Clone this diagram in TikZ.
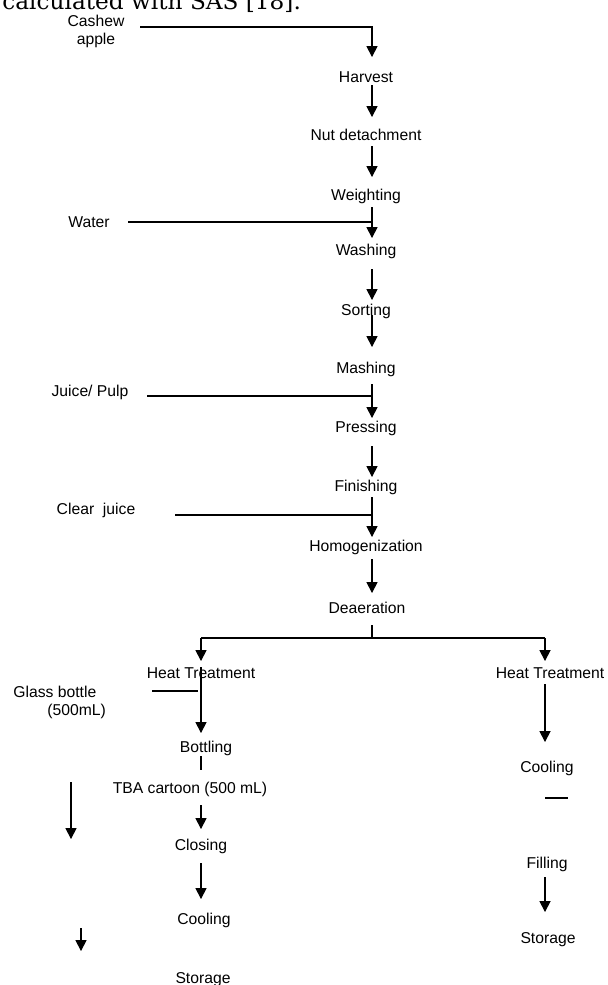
\documentclass[tikz,border=0pt]{standalone}
\usepackage{fontspec}
\setmainfont{Liberation Sans}
\newfontfamily\serifx{DejaVu Serif}
\usetikzlibrary{arrows.meta}
\tikzset{
  lbl/.style={inner sep=0pt, anchor=base, font=\fontsize{7.85}{9}\selectfont},
  conn/.style={line width=0.55pt, draw=black},
  arr/.style={conn, -{Triangle[length=5.5pt,width=5.6pt]}},
}
\begin{document}
\begin{tikzpicture}[x=0.5pt,y=-0.5pt]
\useasboundingbox (0,0) rectangle (607,985);
% clipped caption line at the top
\node[inner sep=0pt, anchor=base west, font=\serifx\fontsize{11.6}{14}\selectfont] (cap) at (2,10) {calculated with SAS [18].};
% labels
\node[lbl, align=center] (cashew) at (96,44.5) {Cashew\\apple};
\node[lbl] (harvest) at (366,82.5) {Harvest};
\node[lbl] (nut) at (366,140.5) {Nut detachment};
\node[lbl] (weight) at (366,200.5) {Weighting};
\node[lbl] (water) at (89,227.5) {Water};
\node[lbl] (wash) at (366,255.5) {Washing};
\node[lbl] (sort) at (366,315.5) {Sorting};
\node[lbl] (mash) at (366,373.5) {Mashing};
\node[lbl] (juice) at (90,396.5) {Juice/ Pulp};
\node[lbl] (press) at (366,432.5) {Pressing};
\node[lbl] (finish) at (366,491.5) {Finishing};
\node[lbl] (clear) at (96,514.5) {Clear\ \ juice};
\node[lbl] (homog) at (366,551.5) {Homogenization};
\node[lbl] (deaer) at (367,613.5) {Deaeration};
\node[lbl] (heatL) at (201,678.5) {Heat Treatment};
\node[lbl] (heatR) at (550,678.5) {Heat Treatment};
\node[lbl, anchor=base west, align=left] (glass) at (13,715.5) {Glass bottle\\\hspace*{17pt}(500mL)};
\node[lbl] (bottl) at (206,752.5) {Bottling};
\node[lbl] (tba) at (190,793.5) {TBA cartoon (500 mL)};
\node[lbl] (closing) at (201,850.5) {Closing};
\node[lbl] (coolL) at (204,924.5) {Cooling};
\node[lbl] (storL) at (203,983.5) {Storage};
\node[lbl] (coolR) at (547,772.5) {Cooling};
\node[lbl] (fill) at (547,868.5) {Filling};
\node[lbl] (storR) at (548,943.5) {Storage};
% connector points
\coordinate (c0) at (140,27);  \coordinate (c1) at (372,27);  \coordinate (c2) at (372,57);
\coordinate (h0) at (372,85);  \coordinate (h1) at (372,117);
\coordinate (n0) at (372,146); \coordinate (n1) at (372,177);
\coordinate (w0) at (372,207); \coordinate (w1) at (372,238);
\coordinate (wa0) at (128,222); \coordinate (wa1) at (372,222);
\coordinate (s0) at (372,269); \coordinate (s1) at (372,300);
\coordinate (so0) at (372,315); \coordinate (so1) at (372,347);
\coordinate (m0) at (372,384); \coordinate (m1) at (372,418);
\coordinate (j0) at (147,396); \coordinate (j1) at (372,396);
\coordinate (p0) at (372,446); \coordinate (p1) at (372,477);
\coordinate (f0) at (372,497); \coordinate (f1) at (372,537);
\coordinate (cj0) at (175,515); \coordinate (cj1) at (372,515);
\coordinate (g0) at (372,559); \coordinate (g1) at (372,593);
\coordinate (d0) at (372,625); \coordinate (d1) at (372,638);
\coordinate (bL) at (201,638); \coordinate (bR) at (545,638);
\coordinate (bLt) at (201,661); \coordinate (bRt) at (545,661);
\coordinate (hl0) at (201,667); \coordinate (hl1) at (201,733);
\coordinate (gb0) at (152,691); \coordinate (gb1) at (198,691);
\coordinate (bt0) at (201,756); \coordinate (bt1) at (201,770);
\coordinate (t0) at (201,805); \coordinate (t1) at (201,829);
\coordinate (lf0) at (71,782); \coordinate (lf1) at (71,839);
\coordinate (cl0) at (201,863); \coordinate (cl1) at (201,899);
\coordinate (sa0) at (81,928); \coordinate (sa1) at (81,951);
\coordinate (hr0) at (545,684); \coordinate (hr1) at (545,742);
\coordinate (sh0) at (545,798); \coordinate (sh1) at (568,798);
\coordinate (fi0) at (545,877); \coordinate (fi1) at (545,912);
% connectors
\draw[arr] (c0) -- (c1) -- (c2);
\draw[arr] (h0) -- (h1);
\draw[arr] (n0) -- (n1);
\draw[arr] (w0) -- (w1);
\draw[conn] (wa0) -- (wa1);
\draw[arr] (s0) -- (s1);
\draw[arr] (so0) -- (so1);
\draw[arr] (m0) -- (m1);
\draw[conn] (j0) -- (j1);
\draw[arr] (p0) -- (p1);
\draw[arr] (f0) -- (f1);
\draw[conn] (cj0) -- (cj1);
\draw[arr] (g0) -- (g1);
\draw[conn] (d0) -- (d1);
\draw[conn] (bL) -- (bR);
\draw[arr] (bL) -- (bLt);
\draw[arr] (bR) -- (bRt);
\draw[arr] (hl0) -- (hl1);
\draw[conn] (gb0) -- (gb1);
\draw[conn] (bt0) -- (bt1);
\draw[arr] (t0) -- (t1);
\draw[arr] (lf0) -- (lf1);
\draw[arr] (cl0) -- (cl1);
\draw[arr] (sa0) -- (sa1);
\draw[arr] (hr0) -- (hr1);
\draw[conn] (sh0) -- (sh1);
\draw[arr] (fi0) -- (fi1);
\end{tikzpicture}
\end{document}
